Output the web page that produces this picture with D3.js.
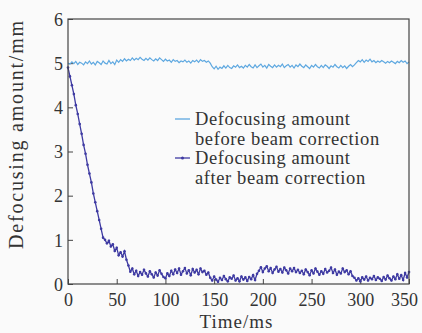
<!DOCTYPE html>
<html>
<head>
<meta charset="utf-8">
<script src="https://cdn.jsdelivr.net/npm/d3@7"></script>
<style>
  body { margin: 0; background: #fafafa; }
  text { font-family: "Liberation Serif", "Times New Roman", serif; fill: #333; }
</style>
</head>
<body>
<svg id="chart"></svg>
<script>
const WIDTH = 422, HEIGHT = 333;

// time axis: one sample every 2 ms
const timeStep = 2;
const xTicks = [0, 50, 100, 150, 200, 250, 300, 350];
const yTicks = [0, 1, 2, 3, 4, 5, 6];
const seriesNames = ['Defocusing amount\nbefore beam correction', 'Defocusing amount\nafter beam correction'];

const before = [
  5.00, 4.98, 5.03, 4.99, 5.04, 4.97, 5.02, 5.00, 4.96, 5.03,
  4.99, 5.05, 4.98, 5.02, 4.96, 5.04, 5.01, 4.97, 5.05, 5.00,
  4.98, 5.06, 4.99, 5.03, 4.97, 5.07, 5.02, 5.08, 5.04, 5.10,
  5.05, 5.09, 5.06, 5.12, 5.07, 5.11, 5.08, 5.13, 5.09, 5.06,
  5.11, 5.07, 5.12, 5.08, 5.05, 5.10, 5.06, 5.12, 5.08, 5.04,
  5.09, 5.05, 5.07, 5.02, 5.08, 5.04, 5.06, 5.01, 5.05, 5.03,
  5.07, 5.02, 5.05, 5.00, 5.06, 5.03, 5.07, 5.02, 5.08, 5.04,
  5.06, 5.02, 5.05, 5.00, 4.92, 4.87, 4.93, 4.86, 4.91, 4.88,
  4.94, 4.89, 4.95, 4.90, 4.88, 4.94, 4.91, 4.96, 4.90, 4.93,
  4.89, 4.95, 4.91, 4.97, 4.92, 4.89, 4.96, 4.90, 4.94, 4.98,
  4.91, 4.95, 4.89, 4.97, 4.93, 4.90, 4.96, 4.91, 4.95, 4.92,
  4.98, 4.90, 4.94, 4.97, 4.91, 4.95, 4.89, 4.96, 4.92, 4.98,
  4.93, 4.90, 4.96, 4.92, 4.88, 4.95, 4.91, 4.97, 4.92, 4.89,
  4.95, 4.90, 4.96, 4.93, 4.88, 4.94, 4.91, 4.97, 4.92, 4.89,
  4.95, 4.90, 4.94, 4.88, 4.93, 4.97, 4.92, 4.96, 5.01, 5.06,
  5.03, 5.08, 5.02, 5.07, 5.04, 5.09, 5.03, 5.06, 5.01, 5.05,
  5.02, 5.06, 5.03, 5.00, 5.04, 5.01, 5.05, 5.02, 4.99, 5.04,
  5.01, 5.06, 5.02, 5.05, 4.99, 5.03
];

const after = [
  4.90, 4.70, 4.50, 4.30, 4.05, 3.85, 3.62, 3.40, 3.15, 2.95,
  2.70, 2.50, 2.30, 2.05, 1.85, 1.65, 1.45, 1.25, 1.05, 1.00,
  0.92, 0.98, 0.85, 0.90, 0.75, 0.82, 0.65, 0.72, 0.62, 0.74,
  0.55, 0.42, 0.28, 0.35, 0.22, 0.30, 0.18, 0.27, 0.21, 0.32,
  0.24, 0.17, 0.29, 0.22, 0.15, 0.26, 0.19, 0.31, 0.23, 0.16,
  0.13, 0.24, 0.18, 0.30, 0.22, 0.33, 0.25, 0.35, 0.21, 0.29,
  0.36, 0.24, 0.31, 0.20, 0.34, 0.26, 0.32, 0.22, 0.35, 0.27,
  0.30, 0.21, 0.26, 0.14, 0.08, 0.17, 0.10, 0.05, 0.14, 0.09,
  0.18, 0.11, 0.06, 0.15, 0.12, 0.19, 0.08, 0.13, 0.06, 0.17,
  0.10, 0.15, 0.07, 0.16, 0.11, 0.20, 0.09, 0.23, 0.30, 0.38,
  0.27, 0.35, 0.40, 0.29, 0.36, 0.25, 0.33, 0.39, 0.28, 0.34,
  0.26, 0.37, 0.31, 0.24, 0.35, 0.29, 0.36, 0.27, 0.32, 0.25,
  0.30, 0.22, 0.33, 0.27, 0.20, 0.31, 0.24, 0.35, 0.28, 0.21,
  0.29, 0.23, 0.34, 0.26, 0.30, 0.37, 0.25, 0.33, 0.21, 0.28,
  0.24, 0.35, 0.27, 0.31, 0.22, 0.29, 0.18, 0.14, 0.08, 0.13,
  0.06, 0.15, 0.10, 0.17, 0.08, 0.14, 0.11, 0.18, 0.09, 0.15,
  0.12, 0.07, 0.16, 0.10, 0.19, 0.13, 0.08, 0.17, 0.11, 0.22,
  0.12, 0.20, 0.09, 0.25, 0.15, 0.27
];

const colors = ['#5ea8e0', '#3e3aa2'];

const margin = { top: 19, right: 13, bottom: 49, left: 68 };
const innerW = WIDTH - margin.left - margin.right,
    innerH = HEIGHT - margin.top - margin.bottom;

const x = d3.scaleLinear().domain([0, 350]).range([0, innerW]);
const y = d3.scaleLinear().domain([0, 6]).range([innerH, 0]);

const svg = d3.select('svg#chart')
    .attr('width', WIDTH)
    .attr('height', HEIGHT);

svg.append('rect')
    .attr('width', WIDTH)
    .attr('height', HEIGHT)
    .attr('fill', '#fafafa');

const g = svg.append('g')
    .attr('transform', `translate(${margin.left},${margin.top})`);

// axes with inward ticks
const xAxis = g.append('g')
    .attr('transform', `translate(0,${innerH})`)
    .call(d3.axisBottom(x).tickValues(xTicks).tickFormat(d3.format('d'))
        .tickSize(-5).tickPadding(9).tickSizeOuter(0));

const yAxis = g.append('g')
    .call(d3.axisLeft(y).tickValues(yTicks).tickFormat(d3.format('d'))
        .tickSize(-5).tickPadding(5).tickSizeOuter(0));

[xAxis, yAxis].forEach(a => {
    a.select('.domain').remove();
    a.selectAll('line').attr('stroke', '#444').attr('stroke-width', 1);
    a.selectAll('text')
        .attr('font-family', '"Liberation Serif", serif')
        .attr('font-size', 18)
        .attr('fill', '#333');
});
xAxis.selectAll('text').attr('dy', '0.71em');
yAxis.selectAll('text').attr('dy', '0.35em');
// keep the last x label inside the picture
xAxis.selectAll('text').filter(d => d === 350).attr('dx', -5);

// data lines
const line = d3.line()
    .x((d, i) => x(i * timeStep))
    .y(d => y(d));

g.append('path')
    .datum(before)
    .attr('fill', 'none')
    .attr('stroke', colors[0])
    .attr('stroke-width', 1.2)
    .attr('d', line);

g.append('path')
    .datum(after)
    .attr('fill', 'none')
    .attr('stroke', colors[1])
    .attr('stroke-width', 1.3)
    .attr('d', line);

g.append('g')
    .selectAll('circle')
    .data(after)
    .enter().append('circle')
        .attr('cx', (d, i) => x(i * timeStep))
        .attr('cy', d => y(d))
        .attr('r', 1.3)
        .attr('fill', colors[1]);

// frame
g.append('rect')
    .attr('width', innerW)
    .attr('height', innerH)
    .attr('fill', 'none')
    .attr('stroke', '#444')
    .attr('stroke-width', 1.2);

// legend
const legend = g.append('g')
    .attr('transform', `translate(${175 - margin.left},${119 - margin.top})`);

seriesNames.forEach((name, i) => {
    const row = legend.append('g').attr('transform', `translate(0,${i * 39})`);
    row.append('line')
        .attr('x1', 0).attr('x2', 15)
        .attr('stroke', colors[i])
        .attr('stroke-width', 1.3);
    if (i === 1) {
        row.append('circle').attr('cx', 7.5).attr('r', 1.5).attr('fill', colors[i]);
    }
    const t = row.append('text')
        .attr('x', 20)
        .attr('y', 6)
        .attr('font-size', 18.5)
        .attr('letter-spacing', 0.6);
    name.split('\n').forEach((s, k) => {
        t.append('tspan').attr('x', 20).attr('dy', k === 0 ? 0 : 19.5).text(s);
    });
});

// axis titles
svg.append('text')
    .attr('x', margin.left + innerW / 2 - 2)
    .attr('y', 328)
    .attr('text-anchor', 'middle')
    .attr('font-size', 19)
    .attr('letter-spacing', 1)
    .text('Time/ms');

svg.append('text')
    .attr('transform', `translate(23,${134}) rotate(-90)`)
    .attr('text-anchor', 'middle')
    .attr('font-size', 20)
    .attr('letter-spacing', 1.8)
    .text('Defocusing amount/mm');
</script>
</body>
</html>
